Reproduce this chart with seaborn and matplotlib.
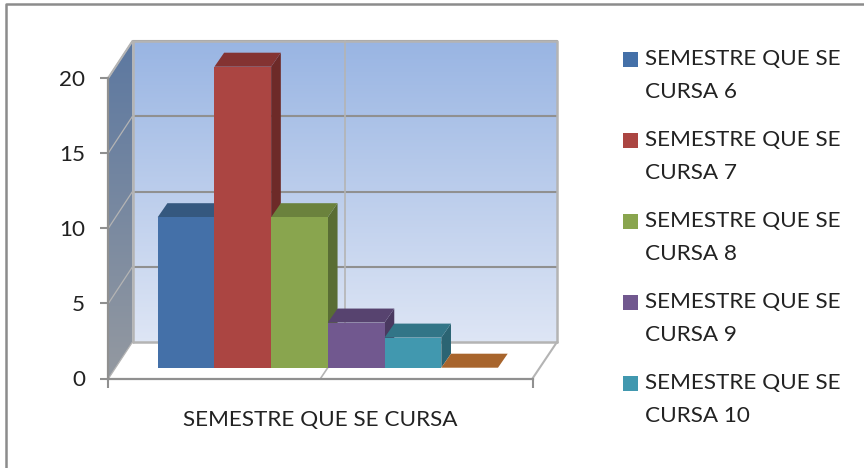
import numpy as np
import matplotlib
matplotlib.use('Agg')
import matplotlib.pyplot as plt
from matplotlib.patches import Polygon, Rectangle
import seaborn as sns

# datos
semestres = ['6', '7', '8', '9', '10', '11']
valores = [10, 20, 10, 3, 2, 0]
etiquetas = ['SEMESTRE QUE SE\nCURSA 6', 'SEMESTRE QUE SE\nCURSA 7', 'SEMESTRE QUE SE\nCURSA 8',
             'SEMESTRE QUE SE\nCURSA 9', 'SEMESTRE QUE SE\nCURSA 10']
ticks_y = [0, 5, 10, 15, 20]
colores = ['#4470A8', '#AB4542', '#89A54E', '#71588F', '#4198AF', '#DB843D']
colores_top = ['#35587F', '#843332', '#6B823D', '#57436F', '#327587', '#A8652D']
colores_lado = ['#2D4B6E', '#6D2A28', '#596D34', '#4A3960', '#2B6473', '#8A5325']

sns.set_theme(style='white')
plt.rcParams['font.family'] = ['Lato', 'DejaVu Sans']

W, H = 864, 468
fig = plt.figure(figsize=(W / 100, H / 100), dpi=100)

def pos(x0, x1, ytop, ybot):
    return [x0 / W, 1 - ybot / H, (x1 - x0) / W, (ybot - ytop) / H]

gris = '#909090'
gris_claro = '#B4B4B4'
texto = '#222222'
fs = 16.2

# fondo en pixeles: marco, paredes y suelo
bg = fig.add_axes([0, 0, 1, 1], zorder=0)
bg.axis('off')

pared = [(132.5, 41), (557, 41), (557, 342), (132.5, 342)]
lateral = [(108.5, 77.5), (132.5, 41), (132.5, 342), (108.5, 378.5)]

grad = np.linspace(0, 1, 256)[:, None]
arriba, abajo = np.array([0.60, 0.71, 0.89]), np.array([0.87, 0.90, 0.96])
img = arriba + (abajo - arriba) * grad[..., None]
im = bg.imshow(img, extent=(132.5, 557, 342, 41), aspect='auto', zorder=1)

arriba, abajo = np.array([0.36, 0.47, 0.63]), np.array([0.58, 0.60, 0.63])
img = arriba + (abajo - arriba) * grad[..., None]
im2 = bg.imshow(img, extent=(108.5, 132.5, 378.5, 41), aspect='auto', zorder=1)
p = Polygon(lateral, closed=True, transform=bg.transData, fc='none', ec='none')
bg.add_patch(p)
im2.set_clip_path(p)

bg.set_xlim(0, W)
bg.set_ylim(H, 0)

# lineas de la pared del fondo
for i, t in enumerate(ticks_y):
    y_f = 342 - t * 15.05
    y_l = 378.5 - t * 15.05
    if t > 0:
        bg.plot([132.5, 557], [y_f, y_f], color=gris, lw=1.5, zorder=2)
    bg.plot([108.5, 132.5], [y_l, y_f], color=gris_claro, lw=0.9, zorder=2)
bg.plot([132.5, 132.5, 557, 557], [342, 41, 41, 342], color=gris_claro, lw=1.8, zorder=2)
bg.plot([132.5, 557], [342, 342], color=gris_claro, lw=1.8, zorder=2)
bg.plot([345, 345], [41, 342], color=gris_claro, lw=1.2, zorder=2)
bg.plot([108.5, 132.5], [77.5, 41], color=gris_claro, lw=1.5, zorder=2)
bg.plot([532.5, 557], [378.5, 342], color=gris_claro, lw=1.5, zorder=2)
bg.plot([320.5, 345], [378.5, 342], color=gris_claro, lw=1.2, zorder=2)

# marco
bg.plot([5.5, 5.5, W], [H, 4.3, 4.3], color='#8C8C8C', lw=1.8, zorder=3)

# eje frontal
ax = fig.add_axes(pos(108.5, 532.5, 77.5, 378.5), zorder=1)
ax.patch.set_alpha(0)
ax.set_xlim(0, 1)
ax.set_ylim(0, 20)
ax.set_yticks(ticks_y)
ax.set_xticks([0, 1])
ax.set_xticklabels(['', ''])
ax.tick_params(axis='y', length=6, width=1.5, color=gris, labelsize=fs, labelcolor=texto, pad=11, left=True)
ax.tick_params(axis='x', length=6.5, width=1.5, color=gris, bottom=True)
sns.despine(ax=ax, top=True, right=True)
for s in ['left', 'bottom']:
    ax.spines[s].set_color(gris)
    ax.spines[s].set_linewidth(1.6)
ax.set_xlabel('SEMESTRE QUE SE CURSA', fontsize=fs, color=texto, labelpad=13)
ax.xaxis.label.set_x(0.5)

# barras
ax_b = fig.add_axes(pos(157.7, 498, 367.7 - 21 * 15.05, 367.7), zorder=2)
sns.barplot(x=semestres, y=valores, hue=semestres, order=semestres, hue_order=semestres,
            palette=colores, saturation=1, width=1, legend=False, ax=ax_b)
ax_b.set_xlim(-0.5, 5.5)
ax_b.set_ylim(0, 21)
ax_b.axis('off')

dx = 9.7 / (340.3 / 6)
dy = 14 / 15.05
for i, bar in enumerate(ax_b.patches):
    x0, x1 = bar.get_x(), bar.get_x() + bar.get_width()
    h = bar.get_height()
    bar.set_zorder(3 * i + 3)
    bar.set_linewidth(0)
    ax_b.add_patch(Polygon([(x0, h), (x1, h), (x1 + dx, h + dy), (x0 + dx, h + dy)], closed=True,
                           fc=colores_top[i], ec='none', zorder=3 * i + 2, clip_on=False))
    if h > 0:
        ax_b.add_patch(Polygon([(x1, 0), (x1 + dx, dy), (x1 + dx, h + dy), (x1, h)], closed=True,
                               fc=colores_lado[i], ec='none', zorder=3 * i + 1, clip_on=False))

# leyenda
for i, et in enumerate(etiquetas):
    y = 59.5 + 81 * i
    bg.add_patch(Rectangle((622.5, y - 7.5), 15.5, 15, fc=colores[i], ec='none', zorder=3))
    bg.text(645, y + 16, et, fontsize=fs, color=texto, va='center', ha='left', linespacing=1.77, zorder=3)

fig.savefig('out.png', dpi=100)
